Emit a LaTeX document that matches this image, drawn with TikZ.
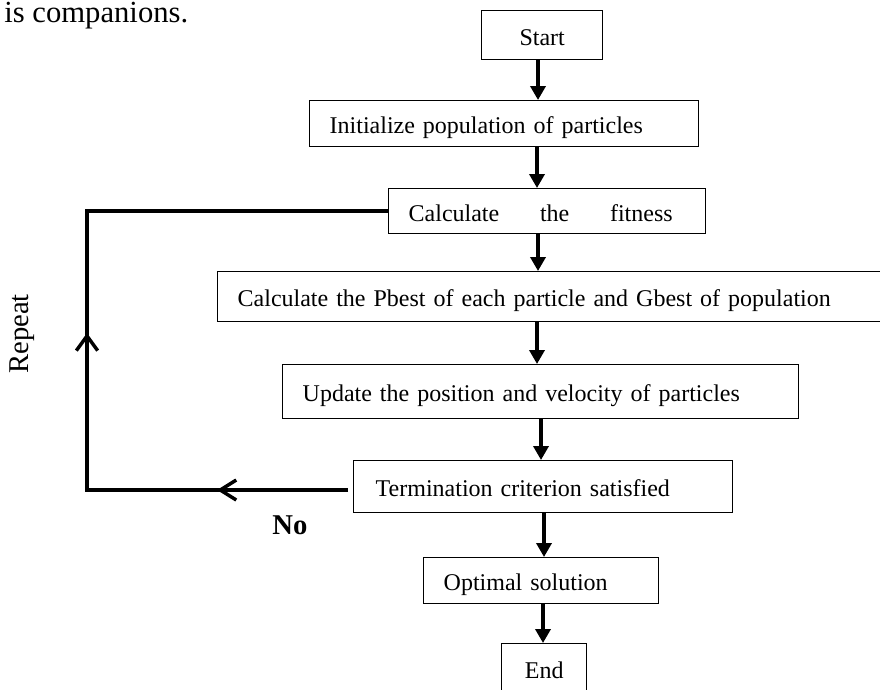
\documentclass[tikz,border=0pt]{standalone}
\usepackage{fontspec}
\setmainfont{Liberation Serif}
\usetikzlibrary{arrows.meta,decorations.markings}
\begin{document}
\begin{tikzpicture}[x=0.75pt,y=-0.75pt,
  box/.style={draw, line width=1pt, rectangle, anchor=north west, inner ysep=0pt,
    text height=15pt, text depth=0pt, font=\fontsize{18}{21.6}\selectfont},
  cbox/.style={box, inner xsep=0pt, align=center},
  lbox/.style={box, inner xsep=15pt, align=left},
  flow/.style={line width=3pt, -{Triangle[length=10.5pt, width=11.25pt]}},
  loopline/.style={line width=3pt, line join=miter,
    postaction={decorate},
    decoration={markings,
      mark=at position 98.25pt with {\arrow[line width=2.6pt]{Straight Barb[length=12pt, width=15pt]}},
      mark=at position 313.5pt with {\arrow[line width=2.6pt]{Straight Barb[length=11pt, width=16pt]}}}},
  lab/.style={font=\fontsize{21.5}{25}\selectfont}]
\clip (0,0) rectangle (880,689);
\fill[white] (0,0) rectangle (880,689);

\node[anchor=base west, inner sep=0pt, font=\fontsize{23}{28}\selectfont] (cap) at (4,22) {is companions.};

\node[cbox, minimum width=121*0.75pt, minimum height=49*0.75pt] (start) at (481,10) {Start};
\node[lbox, minimum height=46*0.75pt, text width=(389-40)*0.75pt] (init) at (309,100) {Initialize population of particles};
\node[lbox, minimum height=45*0.75pt, text width=(317-40)*0.75pt] (calc) at (388,188) {\hbox to 198pt{Calculate\hfill the\hfill fitness}};
\node[lbox, minimum height=50*0.75pt, text width=(700-40)*0.75pt] (pbest) at (217,271) {Calculate the Pbest of each particle and Gbest of population};
\node[lbox, minimum height=54*0.75pt, text width=(516-40)*0.75pt] (upd) at (282,364) {Update the position and velocity of particles};
\node[lbox, minimum height=52*0.75pt, text width=(377-42)*0.75pt, inner xsep=16.5pt] (term) at (353,460) {Termination criterion satisfied};
\node[lbox, minimum height=46*0.75pt, text width=(235-40)*0.75pt] (opt) at (423,557) {Optimal solution};
\node[cbox, minimum width=85*0.75pt, minimum height=50*0.75pt] (end) at (501,643) {End};

\coordinate (xa) at (538,0);
\coordinate (xb) at (537,0);
\coordinate (xc) at (541,0);
\coordinate (xd) at (544,0);
\coordinate (xe) at (543,0);
\coordinate (lx) at (87,0);
\coordinate (tw) at (348,490);

\draw[flow] (start.south -| xa) -- (init.north -| xa);
\draw[flow] (init.south -| xb) -- (calc.north -| xb);
\draw[flow] (calc.south -| xa) -- (pbest.north -| xa);
\draw[flow] (pbest.south -| xb) -- (upd.north -| xb);
\draw[flow] (upd.south -| xc) -- (term.north -| xc);
\draw[flow] (term.south -| xd) -- (opt.north -| xd);
\draw[flow] (opt.south -| xe) -- (end.north -| xe);

\draw[loopline] (tw) -- (tw -| lx) -- (calc.west -| lx) -- (calc.west);

\node[lab, font=\fontsize{21.5}{25}\selectfont\bfseries, anchor=center] (no) at (290,525) {No};
\node[lab, rotate=90, anchor=center] (rep) at (22,334) {Repeat};
\end{tikzpicture}
\end{document}
